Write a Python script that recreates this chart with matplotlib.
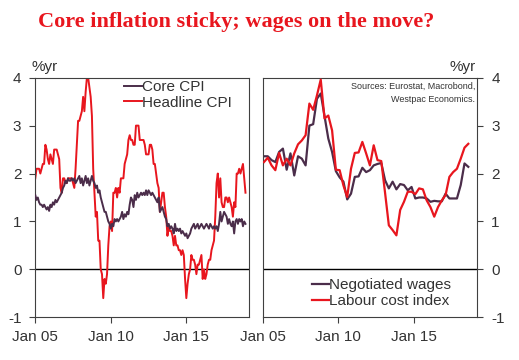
import matplotlib
matplotlib.use("Agg")
import matplotlib.pyplot as plt
import numpy as np

plt.rcParams['font.family'] = ['Liberation Sans', 'DejaVu Sans']

# Euro area CPI, % yr, monthly Jan 2005 - Dec 2018
headline_cpi = [
    1.9, 2.1, 2.1, 2.1, 2.0, 2.1, 2.2, 2.2, 2.6, 2.5, 2.3, 2.2,   # 2005
    2.4, 2.3, 2.2, 2.5, 2.5, 2.5, 2.4, 2.3, 1.7, 1.6, 1.9, 1.9,   # 2006
    1.8, 1.8, 1.9, 1.9, 1.9, 1.9, 1.8, 1.7, 2.1, 2.6, 3.1, 3.1,   # 2007
    3.2, 3.3, 3.6, 3.3, 3.7, 4.0, 4.0, 3.8, 3.6, 3.2, 2.1, 1.6,   # 2008
    1.1, 1.2, 0.6, 0.6, 0.0, -0.1, -0.6, -0.2, -0.3, -0.1, 0.5, 0.9,  # 2009
    1.0, 0.8, 1.6, 1.6, 1.7, 1.5, 1.7, 1.6, 1.9, 1.9, 1.9, 2.2,   # 2010
    2.3, 2.4, 2.7, 2.8, 2.7, 2.7, 2.6, 2.6, 3.0, 3.0, 3.0, 2.7,   # 2011
    2.7, 2.7, 2.7, 2.6, 2.4, 2.4, 2.4, 2.6, 2.6, 2.5, 2.2, 2.2,   # 2012
    2.0, 1.8, 1.7, 1.2, 1.4, 1.6, 1.6, 1.3, 1.1, 0.7, 0.9, 0.8,   # 2013
    0.8, 0.7, 0.5, 0.7, 0.5, 0.5, 0.4, 0.4, 0.3, 0.4, 0.3, -0.2,  # 2014
    -0.6, -0.3, -0.1, 0.0, 0.3, 0.2, 0.2, 0.1, -0.1, 0.1, 0.1, 0.2,  # 2015
    0.3, -0.2, 0.0, -0.2, -0.1, 0.1, 0.2, 0.2, 0.4, 0.5, 0.6, 1.1,  # 2016
    1.8, 2.0, 1.5, 1.9, 1.4, 1.3, 1.3, 1.5, 1.5, 1.4, 1.5, 1.4,   # 2017
    1.3, 1.1, 1.4, 1.3, 2.0, 2.0, 2.1, 2.0, 2.1, 2.2, 1.9, 1.6,   # 2018
]
core_cpi = [
    1.55, 1.45, 1.50, 1.40, 1.35, 1.35, 1.30, 1.35, 1.30, 1.25, 1.30, 1.22,
    1.35, 1.30, 1.40, 1.35, 1.45, 1.40, 1.45, 1.50, 1.55, 1.60, 1.70, 1.75,
    1.85, 1.80, 1.90, 1.85, 1.85, 1.90, 1.85, 1.90, 1.80, 1.85, 1.90, 1.95,
    1.80, 1.90, 1.75, 1.85, 1.95, 1.80, 1.90, 1.75, 1.85, 1.95, 1.85, 1.80,
    1.70, 1.75, 1.60, 1.65, 1.50, 1.40, 1.30, 1.20, 1.20, 1.10, 1.00, 0.95,
    0.85, 0.95, 0.90, 1.05, 1.00, 1.05, 1.00, 1.05, 1.10, 1.20, 1.05, 1.15,
    1.10, 1.20, 1.15, 1.35, 1.50, 1.45, 1.30, 1.55, 1.45, 1.60, 1.50, 1.55,
    1.60, 1.55, 1.60, 1.55, 1.65, 1.55, 1.65, 1.60, 1.55, 1.60, 1.55, 1.50,
    1.45, 1.40, 1.50, 1.20, 1.25, 1.30, 1.20, 1.10, 1.05, 0.90, 0.95, 0.85,
    0.90, 0.85, 0.75, 0.95, 0.80, 0.85, 0.80, 0.85, 0.75, 0.80, 0.75, 0.70,
    0.75, 0.65, 0.70, 0.75, 0.85, 0.90, 0.95, 0.85, 0.90, 0.95, 0.85, 0.90,
    0.95, 0.90, 0.85, 0.90, 0.95, 0.90, 0.85, 0.95, 0.90, 0.85, 0.90, 0.85,
    0.90, 0.80, 0.95, 1.20, 1.00, 1.10, 1.20, 1.15, 1.10, 0.95, 1.05, 0.95,
    0.90, 1.00, 0.75, 1.00, 1.05, 0.95, 1.05, 1.00, 1.05, 0.90, 1.00, 0.95,
]

# Wages, % yr, quarterly Q1 2005 - Q3 2018
negotiated_wages = [
    2.36, 2.36, 2.28, 2.24,  2.45, 2.52, 2.08, 2.42,  1.96, 2.36, 2.31, 2.17,
    3.00, 3.03, 3.56, 3.67,  3.20, 2.73, 2.45, 2.05,  1.92, 1.83, 1.46, 1.58,
    1.93, 1.94, 2.12, 2.03,  2.07, 2.17, 2.20, 2.22,  1.86, 1.69, 1.83, 1.67,
    1.78, 1.76, 1.65, 1.72,  1.48, 1.50, 1.50, 1.48,  1.41, 1.43, 1.42, 1.42,
    1.58, 1.48, 1.48, 1.48,  1.76, 2.21, 2.14,
]
labour_cost_index = [
    2.24, 2.33, 2.17, 2.07,  2.43, 2.17, 2.31, 2.17,  2.42, 2.61, 2.69, 2.80,
    3.46, 3.33, 3.63, 3.96,  3.15, 3.21, 2.90, 2.08,  2.07, 1.75, 1.51, 2.10,
    2.43, 2.44, 2.66, 2.42,  2.17, 2.59, 2.28, 2.26,  1.60, 0.92, 0.82, 0.71,
    1.24, 1.41, 1.62, 1.62,  1.57, 1.69, 1.67, 1.44,  1.30, 1.10, 1.30, 1.44,
    1.55, 1.93, 2.03, 2.10,  2.31, 2.54, 2.62,
]

x_ticks = [2005, 2010, 2015]
x_labels = ['Jan 05', 'Jan 10', 'Jan 15']
y_ticks = [-1, 0, 1, 2, 3, 4]

red = '#e8161e'
purple = '#4b2d4a'
frame = '#404040'
txt = '#333333'

# monthly -> decimal year, quarterly -> middle month of quarter
t_month = 2005 + np.arange(len(headline_cpi)) / 12
t_quarter = 2005 + 1 / 12 + np.arange(len(negotiated_wages)) / 4

fig = plt.figure(figsize=(5.19, 3.60), dpi=100)
ax1 = fig.add_axes([0.068, 0.1186, 0.4112, 0.6656])
ax2 = fig.add_axes([0.5062, 0.1186, 0.4135, 0.6656])

for ax in (ax1, ax2):
    ax.axhline(0, color='black', lw=1.0, zorder=1)
    ax.set_ylim(-1, 4)
    ax.set_yticks(y_ticks)
    ax.set_yticklabels([str(v) for v in y_ticks])
    ax.set_xticks(x_ticks)
    ax.set_xticklabels(x_labels)
    for s in ax.spines.values():
        s.set_color(frame)
        s.set_linewidth(0.8)
    ax.tick_params(direction='out', length=4, width=0.8, color=frame,
                   labelsize=11, labelcolor=txt)
    ax.tick_params(axis='y', pad=6)
    ax.tick_params(axis='x', pad=5)

ax1.set_xlim(2005, 2019.13)
ax2.set_xlim(2005, 2019.18)

l1, = ax1.plot(t_month, core_cpi, color=purple, lw=1.4, zorder=3)
l2, = ax1.plot(t_month, headline_cpi, color=red, lw=1.4, zorder=2)
ax1.legend([l1, l2], ['Core CPI', 'Headline CPI'], loc='upper left',
           bbox_to_anchor=(124 / 519, 1 - 80 / 360), bbox_transform=fig.transFigure,
           frameon=False, fontsize=11, handlelength=1.15, handletextpad=0.0,
           borderpad=0, borderaxespad=0, labelspacing=0.1, labelcolor=txt)

r1, = ax2.plot(t_quarter, negotiated_wages, color=purple, lw=1.6, zorder=2)
r2, = ax2.plot(t_quarter, labour_cost_index, color=red, lw=1.6, zorder=3)
ax2.yaxis.tick_right()
ax2.legend([r1, r2], ['Negotiated wages', 'Labour cost index'], loc='upper left',
           bbox_to_anchor=(311.5 / 519, 1 - 278.5 / 360), bbox_transform=fig.transFigure,
           frameon=False, fontsize=11, handlelength=1.15, handletextpad=0.0,
           borderpad=0, borderaxespad=0, labelspacing=0.1, labelcolor=txt)

fig.text(38 / 519, 1 - 26.7 / 360, 'Core inflation sticky; wages on the move?',
         ha='left', va='baseline', fontsize=16, fontweight='bold',
         family='Liberation Serif', color=red)
fig.text(31.5 / 519, 1 - 71.5 / 360, '%yr', ha='left', va='baseline',
         fontsize=11, color=txt)
fig.text(475.5 / 519, 1 - 71.5 / 360, '%yr', ha='right', va='baseline',
         fontsize=11, color=txt)
fig.text(475 / 519, 1 - 86.7 / 360, 'Sources: Eurostat, Macrobond,', ha='right',
         va='center', fontsize=6.5, color=txt)
fig.text(475 / 519, 1 - 99.3 / 360, 'Westpac Economics.', ha='right',
         va='center', fontsize=6.5, color=txt)

fig.savefig('out.png', dpi=100)
plt.close(fig)
